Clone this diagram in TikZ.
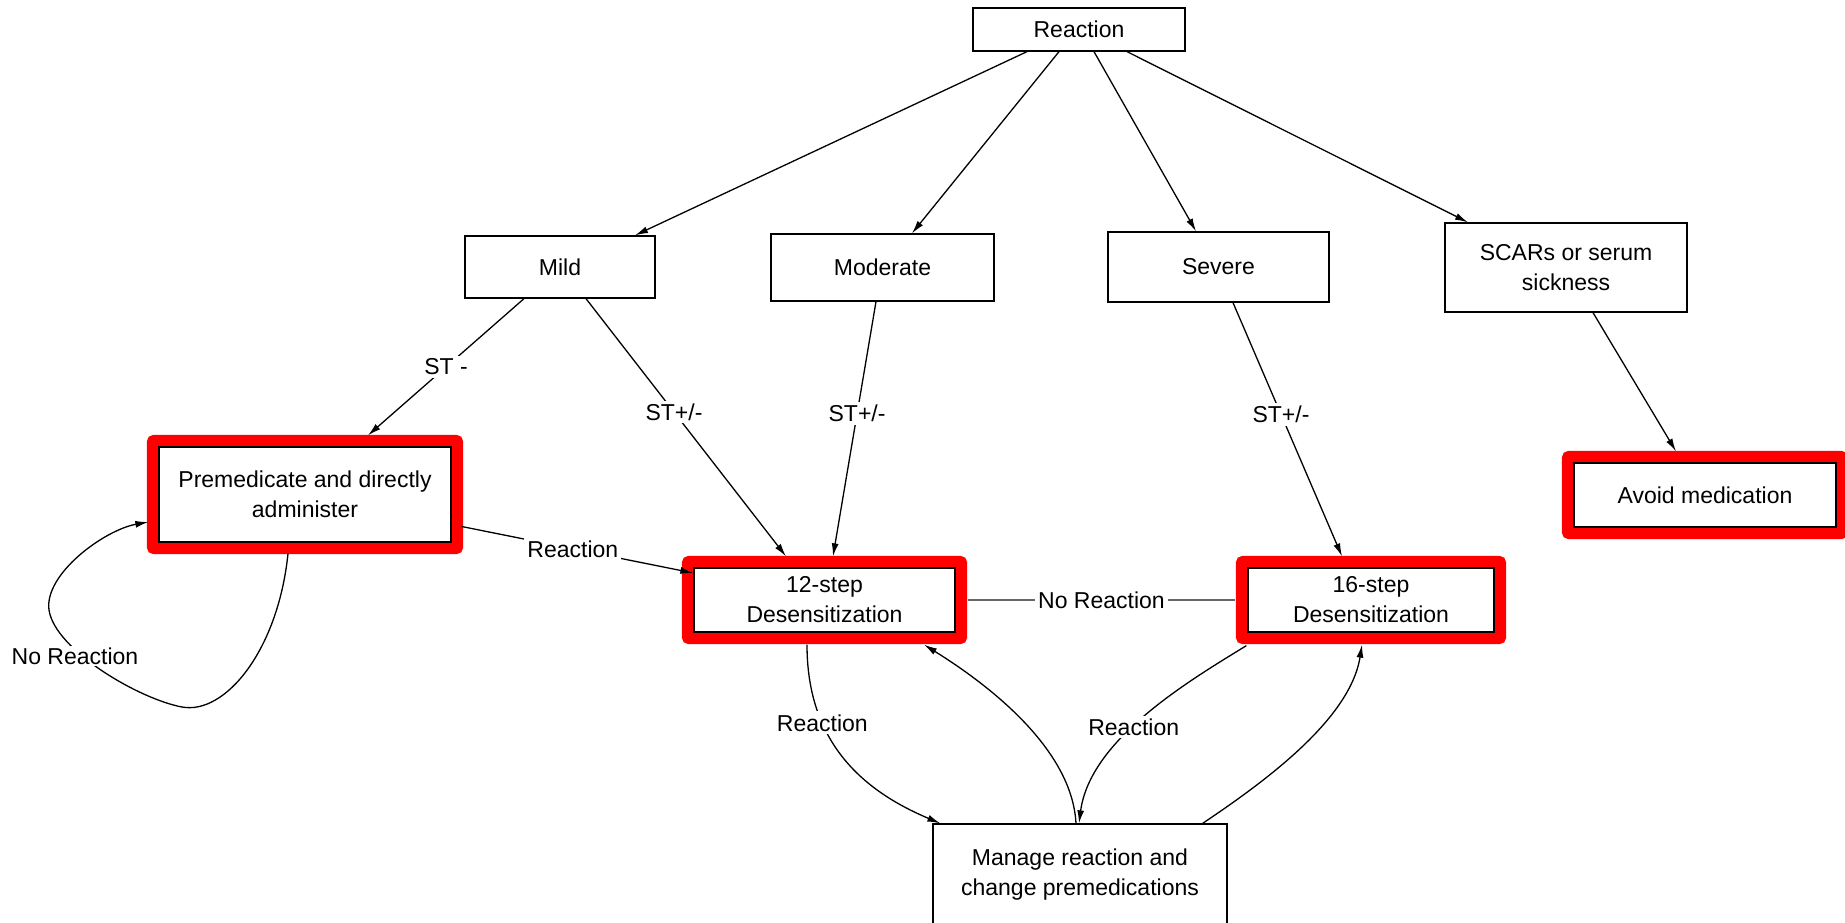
\documentclass[tikz,border=0pt]{standalone}
\usepackage{fontspec}
\setmainfont{Liberation Sans}
\usetikzlibrary{arrows.meta,calc}
\pgfdeclarelayer{back}
\pgfdeclarelayer{bg}
\pgfsetlayers{back,bg,main}
\begin{document}
\begin{tikzpicture}[x=1pt,y=-1pt,
  box/.style={draw=black,line width=1.3pt,align=center,inner sep=0pt,font=\fontsize{23}{30}\selectfont},
  lbl/.style={fill=white,inner sep=3pt,font=\fontsize{23}{30}\selectfont},
  conn/.style={line width=1.3pt,-{Latex[length=13pt,width=7pt]}},
  hl/.style={draw=red,line width=11pt,rounded corners=2pt}]
\begin{pgfonlayer}{back}
\fill[white] (0,0) rectangle (1845,923);
\end{pgfonlayer}
\useasboundingbox (0,0) rectangle (1845,923);

% nodes
\node[box,minimum width=212pt,minimum height=43pt] (reaction) at (1079,29.5) {Reaction};
\node[box,minimum width=190pt,minimum height=62pt] (mild) at (560,267) {Mild};
\node[box,minimum width=223pt,minimum height=67pt] (moderate) at (882.5,267.5) {Moderate};
\node[box,minimum width=221pt,minimum height=70pt] (severe) at (1218.5,267) {Severe};
\node[box,minimum width=242pt,minimum height=89pt] (scars) at (1566,267.5) {SCARs or serum\\sickness};
\node[box,minimum width=292pt,minimum height=95pt] (premed) at (305,494.5) {Premedicate and directly\\administer};
\node[box,minimum width=261pt,minimum height=64pt] (twelve) at (824.5,600) {12-step\\Desensitization};
\node[box,minimum width=246pt,minimum height=64pt] (sixteen) at (1371,600) {16-step\\Desensitization};
\node[box,minimum width=262pt,minimum height=64pt] (avoid) at (1705,495) {Avoid medication};
\node[box,minimum width=294pt,minimum height=102pt] (manage) at (1080,875) {Manage reaction and\\change premedications};

% red highlight frames
\begin{pgfonlayer}{bg}
\foreach \n in {premed,twelve,sixteen,avoid}
  \draw[hl] ([shift={(-6pt,6pt)}]\n.north west) rectangle ([shift={(6pt,-6pt)}]\n.south east);
\end{pgfonlayer}

% connectors from Reaction
\draw[conn] ([xshift=-52pt]reaction.south) -- ([xshift=75pt]mild.north);
\draw[conn] ([xshift=-20pt]reaction.south) -- ([xshift=29.5pt]moderate.north);
\draw[conn] ([xshift=15pt]reaction.south) -- ([xshift=-22.5pt]severe.north);
\draw[conn] ([xshift=48pt]reaction.south) -- ([xshift=-98pt]scars.north);

% second level
\draw[conn] ([xshift=-36pt]mild.south) -- node[lbl,pos=0.5]{ST -} ([shift={(63pt,11pt)}]premed.north);
\draw[conn] ([xshift=26pt]mild.south) -- node[lbl,pos=0.44]{ST+/-} ([shift={(-38.5pt,11pt)}]twelve.north);
\draw[conn] ([xshift=-6.5pt]moderate.south) -- node[lbl,pos=0.44]{ST+/-} ([shift={(8.5pt,11pt)}]twelve.north);
\draw[conn] ([xshift=14.5pt]severe.south) -- node[lbl,pos=0.44]{ST+/-} ([shift={(-29pt,11pt)}]sixteen.north);
\draw[conn] ([xshift=27pt]scars.south) -- ([shift={(-29pt,11pt)}]avoid.north);

% premedicate -> 12-step
\draw[conn] ([shift={(10pt,-32pt)}]premed.east) -- node[lbl,pos=0.48]{Reaction} ([yshift=27pt]twelve.west);

% no reaction loop
\draw[conn] ([shift={(-17pt,-11pt)}]premed.south) .. controls +(-10,97) and +(43,8) .. (182,707)
  .. controls +(-43,-8) and +(6,40) .. (49,610)
  .. controls +(-5,-36) and +(-44,8) .. ([shift={(-10pt,-27.5pt)}]premed.west);
\node[lbl,inner sep=2pt] (noreac) at (75,656) {No Reaction};

% 12-step <-> manage
\draw[conn] ([shift={(-17.5pt,-12pt)}]twelve.south) .. controls +(0,95) and +(-81,-34) .. node[lbl,pos=0.32]{Reaction} ([xshift=8pt]manage.north west);
\draw[conn] ([xshift=-4pt]manage.north) .. controls +(-4,-74) and +(66,41) .. ([shift={(99.5pt,-12pt)}]twelve.south);

% 16-step <-> manage
\draw[conn] ([shift={(-1pt,-13pt)}]sixteen.south west) .. controls +(-57,35) and +(11,-84) .. node[lbl,pos=0.56]{Reaction} ([xshift=-1pt]manage.north);
\draw[conn] ([xshift=-25pt]manage.north east) .. controls +(58,-39) and +(-12,76) .. ([shift={(-9pt,-12pt)}]sixteen.south);

% 12-step -- 16-step
\draw[line width=2.5pt,black!60] ([xshift=12pt]twelve.east) -- node[lbl,text=black]{No Reaction} ([xshift=-12pt]sixteen.west);
\end{tikzpicture}
\end{document}
